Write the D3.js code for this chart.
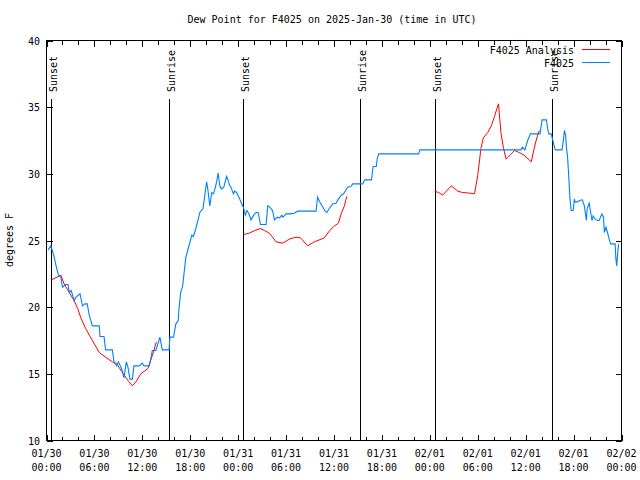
<!DOCTYPE html>
<html><head><meta charset="utf-8">
<script src="https://cdn.jsdelivr.net/npm/d3@7"></script>
<style>
html,body{margin:0;padding:0;background:#fff;}
text{font-family:"DejaVu Sans Mono",monospace;font-size:10px;fill:#000;}
</style></head>
<body>
<svg id="chart" width="640" height="480"></svg>
<script>
// hours since 2025-01-30 00:00 UTC
const obsHours = [0.2,0.55,0.9,1.2,1.5,1.8,2.0,2.4,2.7,2.85,3.1,3.45,3.7,4.2,4.5,4.8,5.1,5.35,5.75,6.6,6.7,7.2,7.4,8.25,8.45,8.8,9.0,9.4,9.7,10.0,10.2,10.45,10.75,10.95,11.6,12.0,12.2,12.85,13.05,13.25,13.7,14.2,14.5,15.35,15.45,15.9,16.2,16.5,16.55,16.8,17.05,17.2,17.45,17.75,18.2,18.4,18.7,19.0,19.2,19.6,19.85,20.05,20.2,20.45,20.7,20.9,21.1,21.3,21.5,21.7,21.9,22.2,22.55,22.7,22.95,23.1,23.4,23.55,23.8,24.1,24.4,24.65,24.9,25.1,25.35,25.6,25.95,26.25,26.5,26.8,27.5,27.7,27.95,28.3,28.55,28.9,29.2,29.45,29.6,30.0,30.6,31.0,31.45,33.75,33.95,34.2,34.5,34.9,35.1,35.4,35.85,36.25,36.55,36.9,37.2,37.7,38.1,38.35,39.6,39.85,40.7,40.8,40.9,41.3,41.4,41.6,46.6,46.75,59.4,59.6,59.9,60.25,60.6,61.8,62.05,62.6,62.75,62.9,63.2,63.45,63.7,64.55,64.7,64.85,65.0,65.1,65.25,65.4,65.55,65.7,65.95,66.1,66.2,66.5,66.75,67.1,67.35,67.6,67.7,67.95,68.1,68.3,68.45,68.7,69.0,69.2,69.55,69.75,69.85,70.05,70.25,70.45,70.65,71.2,71.3,71.4,71.55,71.65];
const obsDewpt = [24.3,24.6,23.9,23.1,22.4,22.25,21.5,21.7,21.7,21.1,21.25,20.5,20.75,21.0,20.1,20.25,20.25,19.4,18.6,18.6,17.8,17.8,16.8,16.8,15.9,15.6,15.9,15.4,14.7,15.9,15.5,14.6,14.6,15.6,15.6,15.8,15.6,15.6,16.1,16.75,16.75,17.75,16.8,16.8,17.75,17.75,18.75,19.0,19.6,21.1,21.6,22.4,23.75,24.4,25.4,25.3,25.9,26.6,27.1,27.4,28.5,29.4,28.85,27.6,28.6,28.5,28.9,29.4,30.05,29.1,28.85,29.0,29.8,29.6,29.1,29.0,28.5,28.7,28.6,28.25,27.8,27.5,26.9,27.25,27.0,26.55,26.9,27.1,27.1,26.2,26.2,27.6,27.5,27.25,26.55,26.75,26.7,26.9,26.75,27.0,27.0,27.05,27.2,27.2,28.25,27.9,27.6,27.2,27.1,27.4,27.75,27.8,28.1,28.4,28.5,29.0,29.05,29.25,29.25,29.55,29.55,30.1,30.55,30.55,31.1,31.5,31.5,31.8,31.8,32.0,31.8,32.5,33.0,33.0,34.05,34.05,33.4,33.0,33.0,32.4,31.8,31.8,32.4,33.25,32.9,32.0,31.25,29.75,28.1,27.25,27.25,28.1,27.9,27.9,28.0,28.05,27.6,26.5,27.4,27.8,27.25,26.5,26.85,26.6,26.5,26.5,27.0,26.75,25.6,26.0,25.6,25.1,24.75,24.75,23.6,23.1,24.25,24.75];
// analysis (null = gap)
const anaHours = [0.63,1.8,2.2,2.85,3.45,3.9,4.3,4.9,5.75,6.6,7.4,8.25,8.8,9.5,10.2,10.75,11.2,11.8,12.7,13.1,13.45,13.75,null,
  24.7,25.4,26.05,26.8,27.3,27.9,28.75,29.6,30.4,31.25,31.8,32.7,33.55,34.8,35.4,35.95,36.55,36.9,37.3,37.6,null,
  48.6,49.1,49.6,50.7,51.5,52.1,53.0,53.6,54.0,54.4,54.7,55.25,55.7,56.1,56.4,56.6,56.9,57.2,57.55,58.05,58.6,59.2,59.8,60.7,61.1,61.4,61.7];
const anaDewpt = [22.05,22.4,21.75,21.1,20.5,19.9,19.2,18.4,17.5,16.6,16.25,15.9,15.75,15.1,14.5,14.1,14.4,15.0,15.4,16.1,16.75,17.4,null,
  25.45,25.55,25.75,25.9,25.75,25.55,24.9,24.8,25.1,25.25,25.2,24.6,24.9,25.2,25.7,26.05,26.3,27.0,27.6,28.3,null,
  28.7,28.6,28.4,29.1,28.7,28.6,28.55,28.5,29.9,31.9,32.7,33.1,33.6,34.3,34.9,35.25,33.1,32.0,31.1,31.4,31.75,31.6,31.4,30.9,32.0,32.7,33.25];
const sunHours = [0.59,15.38,24.63,39.25,48.63,63.25];
const sunLabels = ["Sunset","Sunrise","Sunset","Sunrise","Sunset","Sunrise"];
const yTicks = [10,15,20,25,30,35,40];
const seriesNames = ["F4025 Analysis","F4025"];
const seriesColors = ["#ff0000","#0080ff"];
const titleText = "Dew Point for F4025 on 2025-Jan-30 (time in UTC)";
const yLabel = "degrees F";

const t0 = Date.UTC(2025,0,30);
const toDate = h => new Date(t0 + h*3600e3);

const svg = d3.select("#chart");
const L=46.5, R=621.5, T=40.5, B=440.5;
const x = d3.scaleUtc().domain([toDate(0), toDate(72)]).range([L,R]);
const y = d3.scaleLinear().domain([10,40]).range([B,T]);

svg.append("text").attr("x",332).attr("y",23).attr("text-anchor","middle").text(titleText);
svg.append("text").attr("transform","translate(13,240) rotate(-90)").attr("text-anchor","middle").text(yLabel);

const majorX = d3.utcHour.every(6).range(toDate(0), toDate(72.01));
const minorX = d3.utcHour.every(2).range(toDate(0), toDate(72.01));
const g = svg.append("g").attr("shape-rendering","crispEdges").attr("stroke","#000");
minorX.forEach(d=>{
  const xx = Math.round(x(d))+0.5;
  const len = (d.getUTCHours()%6===0)?6:4;
  g.append("line").attr("x1",xx).attr("x2",xx).attr("y1",B).attr("y2",B-len);
  g.append("line").attr("x1",xx).attr("x2",xx).attr("y1",T).attr("y2",T+len);
});
yTicks.forEach(v=>{
  const yy = Math.round(y(v))+0.5;
  g.append("line").attr("x1",L).attr("x2",L+6).attr("y1",yy).attr("y2",yy);
  g.append("line").attr("x1",R).attr("x2",R-6).attr("y1",yy).attr("y2",yy);
  svg.append("text").attr("x",40).attr("y",yy).attr("dy","0.35em").attr("text-anchor","end").text(v);
});
const fD = d3.utcFormat("%m/%d"), fT = d3.utcFormat("%H:%M");
majorX.forEach(d=>{
  const xx = x(d);
  svg.append("text").attr("x",xx).attr("y",457).attr("text-anchor","middle").text(fD(d));
  svg.append("text").attr("x",xx).attr("y",471).attr("text-anchor","middle").text(fT(d));
});

// sun lines
sunHours.forEach((h,i)=>{
  const xx = Math.round(x(toDate(h)))+0.5;
  g.append("line").attr("x1",xx).attr("x2",xx).attr("y1",99).attr("y2",B).attr("stroke-width",1.2);
  svg.append("text").attr("transform",`translate(${xx+5.5},92) rotate(-90)`).attr("text-anchor","start").text(sunLabels[i]);
});

// series
const anaData = anaHours.map((h,i)=>({h, v:anaDewpt[i]}));
const obsData = obsHours.map((h,i)=>({h, v:obsDewpt[i]}));
const line = d3.line().defined(d=>d.h!==null && d.v!==null).x(d=>x(toDate(d.h))).y(d=>y(d.v));
svg.append("path").datum(anaData).attr("d",line).attr("fill","none").attr("stroke",seriesColors[0]).attr("stroke-width",1);
svg.append("path").datum(obsData).attr("d",line).attr("fill","none").attr("stroke",seriesColors[1]).attr("stroke-width",1.1);

svg.append("rect").attr("x",L).attr("y",T).attr("width",R-L).attr("height",B-T)
  .attr("fill","none").attr("stroke","#000").attr("shape-rendering","crispEdges");

// legend
seriesNames.forEach((n,i)=>{
  const yy = 50 + i*13;
  svg.append("text").attr("x",574).attr("y",yy).attr("dy","0.35em").attr("text-anchor","end").text(n);
  svg.append("line").attr("x1",582).attr("x2",610).attr("y1",yy-0.5).attr("y2",yy-0.5)
    .attr("stroke",seriesColors[i]).attr("stroke-width",1);
});
</script>
</body></html>
